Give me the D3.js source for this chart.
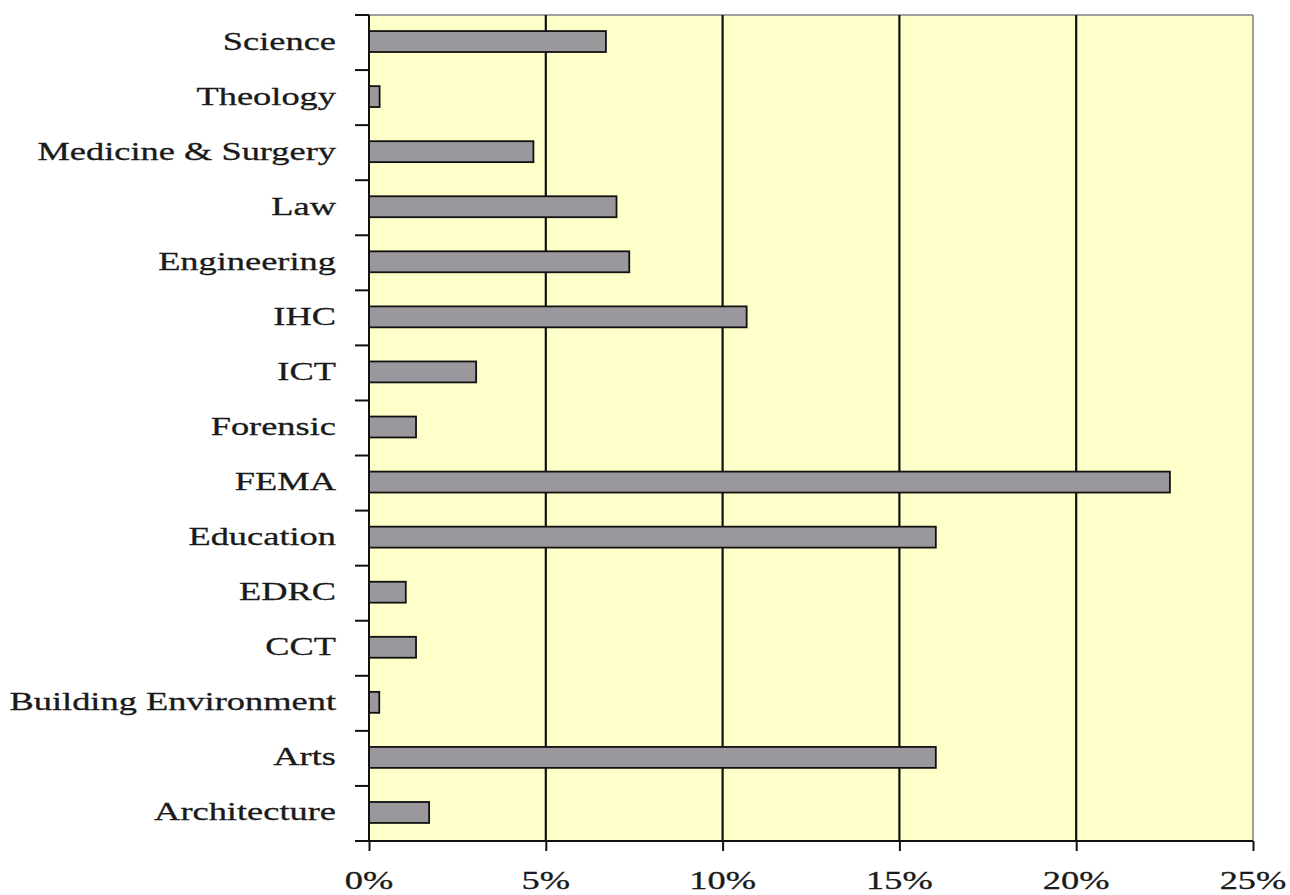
<!DOCTYPE html>
<html>
<head>
<meta charset="utf-8">
<script src="https://cdn.jsdelivr.net/npm/d3@7"></script>
<style>
  html, body { margin: 0; padding: 0; background: #ffffff; }
  svg { display: block; }
</style>
</head>
<body>
<svg id="chart" width="1290" height="895"></svg>
<script>
// ---- data (top to bottom as drawn) ----
const categories = ["Science", "Theology", "Medicine & Surgery", "Law", "Engineering", "IHC", "ICT",
  "Forensic", "FEMA", "Education", "EDRC", "CCT", "Building Environment", "Arts", "Architecture"];
const values = [6.7, 0.3, 4.65, 7.0, 7.36, 10.68, 3.03, 1.33, 22.65, 16.03, 1.04, 1.33, 0.29, 16.03, 1.7];
const xTickValues = [0, 5, 10, 15, 20, 25];

const svg = d3.select("#chart");
const margin = { left: 369, right: 37, top: 15, bottom: 54 };
const W = 1290, H = 895;
const plotW = W - margin.left - margin.right;
const plotH = H - margin.top - margin.bottom;
const sx = 1.40; // horizontal stretch of text in the reference

const x = d3.scaleLinear().domain([0, 25]).range([margin.left, margin.left + plotW]);
const y = d3.scaleBand().domain(categories).range([margin.top, margin.top + plotH]).padding(0);

// background
svg.append("rect")
  .attr("x", x(0)).attr("y", margin.top)
  .attr("width", x(25) - x(0)).attr("height", plotH)
  .attr("fill", "#ffffc9");

// top and right borders (grey)
svg.append("line").attr("x1", x(0)).attr("x2", x(25)).attr("y1", margin.top).attr("y2", margin.top)
  .attr("stroke", "#7f7f7f").attr("stroke-width", 1.5);
svg.append("line").attr("x1", x(25)).attr("x2", x(25)).attr("y1", margin.top).attr("y2", margin.top + plotH)
  .attr("stroke", "#7f7f7f").attr("stroke-width", 1.5);

// vertical gridlines
svg.append("g").selectAll("line").data(xTickValues.filter(d => d > 0 && d < 25)).join("line")
  .attr("x1", d => x(d)).attr("x2", d => x(d))
  .attr("y1", margin.top).attr("y2", margin.top + plotH)
  .attr("stroke", "#111").attr("stroke-width", 2.2);

// bars
const barFrac = 0.38;
svg.append("g").selectAll("rect").data(categories).join("rect")
  .attr("x", x(0))
  .attr("y", (d) => y(d) + y.bandwidth() * (1 - barFrac) / 2 - 1)
  .attr("width", (d, i) => x(values[i]) - x(0))
  .attr("height", y.bandwidth() * barFrac)
  .attr("fill", "#9a989c")
  .attr("stroke", "#111").attr("stroke-width", 1.8);

// x axis
const xAxis = d3.axisBottom(x).tickValues(xTickValues).tickSize(10).tickFormat("");
const gx = svg.append("g").attr("transform", `translate(0,${margin.top + plotH})`).call(xAxis);
gx.select(".domain").attr("stroke", "#111").attr("stroke-width", 2)
  .attr("d", `M${x(0) - 14},0H${x(25)}`);
gx.selectAll(".tick line").attr("stroke", "#111").attr("stroke-width", 2);
svg.append("g").selectAll("text").data(xTickValues).join("text")
  .attr("transform", d => `translate(${x(d)},${margin.top + plotH + 48}) scale(${sx},1)`)
  .attr("text-anchor", "middle")
  .attr("font-family", "'Liberation Serif', 'Times New Roman', serif")
  .attr("font-size", 26).attr("fill", "#1a1a1a")
  .attr("stroke", "#1a1a1a").attr("stroke-width", 0.3)
  .text(d => d + "%");

// y axis (ticks at category boundaries)
const boundaries = categories.map(c => y(c)).concat([margin.top + plotH]);
svg.append("line").attr("x1", x(0)).attr("x2", x(0)).attr("y1", margin.top).attr("y2", margin.top + plotH)
  .attr("stroke", "#111").attr("stroke-width", 2);
svg.append("g").selectAll("line").data(boundaries).join("line")
  .attr("x1", x(0) - 14).attr("x2", x(0))
  .attr("y1", d => d).attr("y2", d => d)
  .attr("stroke", "#111").attr("stroke-width", 2);

// y labels
svg.append("g").selectAll("text").data(categories).join("text")
  .attr("transform", d => `translate(${x(0) - 33},${y(d) + y.bandwidth() / 2 + 7}) scale(${sx},1)`)
  .attr("text-anchor", "end")
  .attr("font-family", "'Liberation Serif', 'Times New Roman', serif")
  .attr("font-size", 26).attr("fill", "#1a1a1a")
  .attr("stroke", "#1a1a1a").attr("stroke-width", 0.3)
  .text(d => d);
</script>
</body>
</html>
